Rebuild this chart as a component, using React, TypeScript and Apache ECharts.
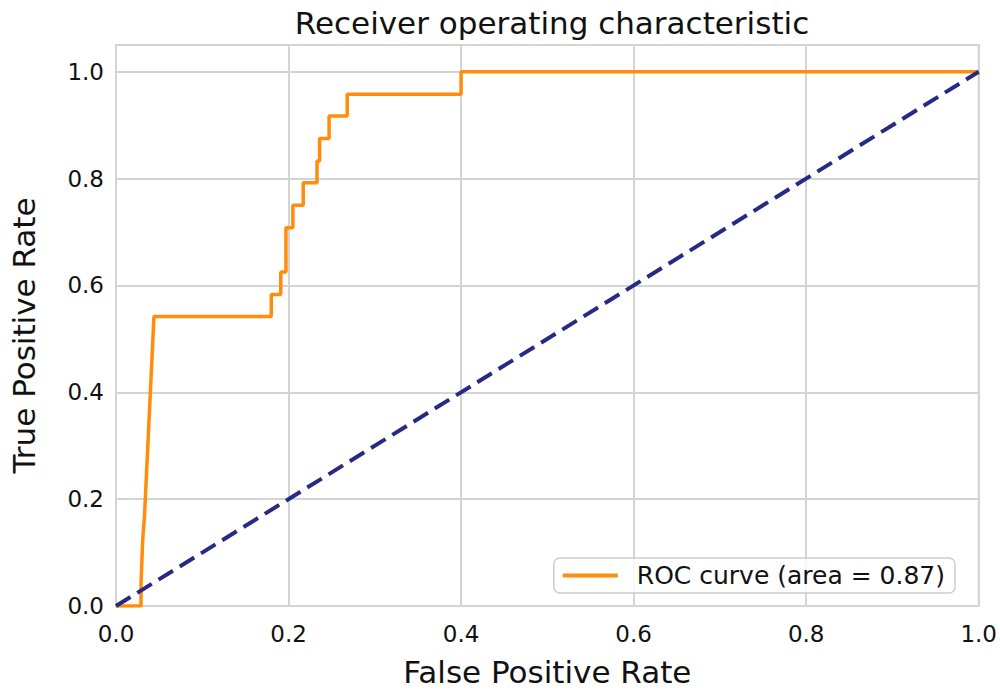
import React, { useEffect, useRef } from "react";
import * as echarts from "echarts";

const fprValues = [0, 0.029, 0.029, 0.031, 0.033, 0.044, 0.18, 0.18, 0.191, 0.191, 0.197, 0.197, 0.205, 0.205, 0.217, 0.217, 0.233, 0.233, 0.236, 0.236, 0.247, 0.247, 0.268, 0.268, 0.4, 0.4, 1.0];
const tprValues = [0, 0, 0.042, 0.125, 0.167, 0.542, 0.542, 0.583, 0.583, 0.625, 0.625, 0.708, 0.708, 0.75, 0.75, 0.792, 0.792, 0.833, 0.833, 0.875, 0.875, 0.917, 0.917, 0.958, 0.958, 1.0, 1.0];
const chanceX = [0, 1];
const chanceY = [0, 1];
const rocLabel = "ROC curve (area = 0.87)";
const titleText = "Receiver operating characteristic";
const xName = "False Positive Rate";
const yName = "True Positive Rate";

const FONT = "DejaVu Sans";
const GRIDC = "#d4d4d4";

export default function App() {
  const ref = useRef<HTMLDivElement>(null);
  useEffect(() => {
    if (!ref.current) return;
    const chart = echarts.init(ref.current, undefined, { renderer: "svg" });
    const fmt = (v: number) =>
      Math.abs(v * 5 - Math.round(v * 5)) < 1e-6 ? v.toFixed(1) : "";
    chart.setOption({
      animation: false,
      backgroundColor: "#ffffff",
      textStyle: { fontFamily: FONT, color: "#111" },
      title: {
        text: titleText,
        left: 547,
        textAlign: "center",
        top: 2,
        textStyle: { fontFamily: FONT, fontSize: 31, fontWeight: "normal", color: "#111" },
      },
      grid: {
        left: 115,
        right: 21,
        top: 45,
        bottom: 91,
        show: true,
        borderColor: GRIDC,
        borderWidth: 2,
        backgroundColor: "transparent",
      },
      xAxis: {
        type: "value",
        min: 0,
        max: 1,
        interval: 0.2,
        name: xName,
        nameLocation: "middle",
        nameGap: 50,
        nameTextStyle: { fontFamily: FONT, fontSize: 31, color: "#111" },
        axisLine: { show: false },
        axisTick: { show: false },
        axisLabel: { formatter: fmt, fontSize: 23, color: "#111", margin: 16, fontFamily: FONT },
        splitLine: { show: true, lineStyle: { color: GRIDC, width: 2 } },
      },
      yAxis: {
        type: "value",
        min: 0,
        max: 1.05,
        interval: 0.2,
        name: yName,
        nameLocation: "middle",
        nameGap: 77,
        nameTextStyle: { fontFamily: FONT, fontSize: 31, color: "#111", padding: [0, 20, 0, 0] },
        axisLine: { show: false },
        axisTick: { show: false },
        axisLabel: { formatter: fmt, fontSize: 23, color: "#111", margin: 12, fontFamily: FONT },
        splitLine: { show: true, lineStyle: { color: GRIDC, width: 2 } },
      },
      legend: {
        right: 45,
        bottom: 104,
        orient: "vertical",
        data: [{ name: rocLabel, icon: "rect" }],
        itemWidth: 55,
        itemHeight: 4,
        padding: [4, 10, 4, 9],
        borderColor: "#cccccc",
        borderWidth: 1.5,
        borderRadius: 6,
        backgroundColor: "rgba(255,255,255,0.8)",
        textStyle: { fontFamily: FONT, fontSize: 25, lineHeight: 27, color: "#111", padding: [0, 0, 0, 14] },
      },
      series: [
        {
          name: rocLabel,
          type: "line",
          data: fprValues.map((x, i) => [x, tprValues[i]]),
          symbol: "none",
          lineStyle: { color: "#ff8c0a", width: 3.5 },
          itemStyle: { color: "#ff8c0a" },
          z: 3,
        },
        {
          name: "chance",
          type: "line",
          data: chanceX.map((x, i) => [x, chanceY[i]]),
          symbol: "none",
          lineStyle: { color: "#262a84", width: 4, type: [17, 8] },
          itemStyle: { color: "#262a84" },
          z: 4,
        },
      ],
    });
    return () => chart.dispose();
  }, []);
  return <div ref={ref} style={{ width: 1000, height: 697, position: "absolute", left: 0, top: 0 }} />;
}
